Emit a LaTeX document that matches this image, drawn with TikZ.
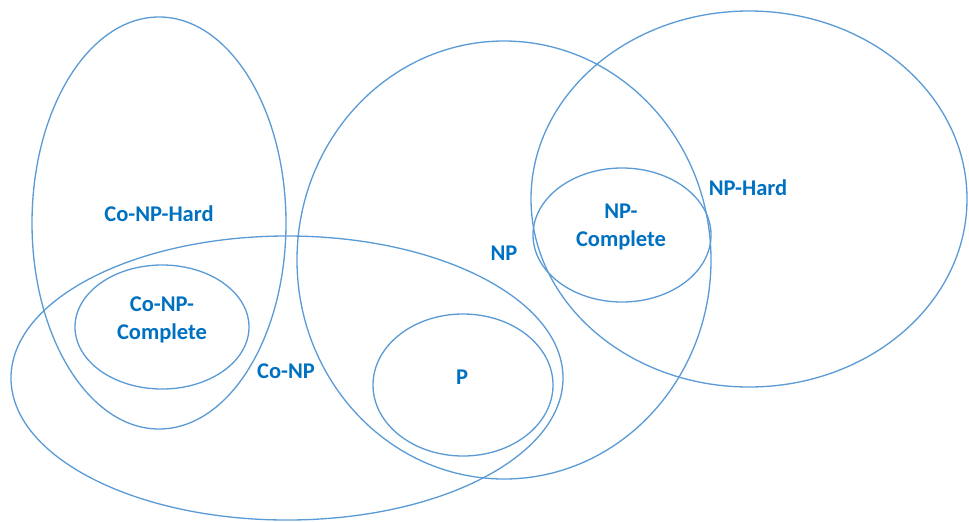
\documentclass[tikz,border=0pt]{standalone}
\usepackage{fontspec}
\setmainfont{Carlito}
\definecolor{setline}{RGB}{91,155,213}
\definecolor{setname}{RGB}{0,112,192}
\tikzset{
  setedge/.style={draw=setline, line width=0.75pt},
  setlabel/.style={text=setname, font=\fontsize{12.8}{16}\selectfont\bfseries, align=center, inner sep=0pt}
}
\begin{document}
\begin{tikzpicture}[x=0.02cm, y=-0.02cm]
\useasboundingbox (0,0) rectangle (969,521);
% left side
\draw[setedge] (159,223) ellipse [x radius=127, y radius=206];
\draw[setedge] (162,327) ellipse [x radius=87, y radius=62];
\draw[setedge] (287,378) ellipse [x radius=276, y radius=142];
% right side
\draw[setedge] (504,260) ellipse [x radius=207, y radius=219];
\draw[setedge] (463,385) ellipse [x radius=90, y radius=71];
\draw[setedge] (749,199) ellipse [x radius=218, y radius=188];
\draw[setedge] (622,235) ellipse [x radius=89, y radius=67];
% set names
\node[setlabel] (conphard) at (159,214) {Co-NP-Hard};
\node[setlabel] (conpcomp) at (162,320) {Co-NP-\\Complete};
\node[setlabel] (conp) at (286,371) {Co-NP};
\node[setlabel] (pset) at (462,377) {P};
\node[setlabel] (npset) at (504,253) {NP};
\node[setlabel] (npcomp) at (621,227) {NP-\\Complete};
\node[setlabel] (nphard) at (748,188) {NP-Hard};
\end{tikzpicture}
\end{document}
